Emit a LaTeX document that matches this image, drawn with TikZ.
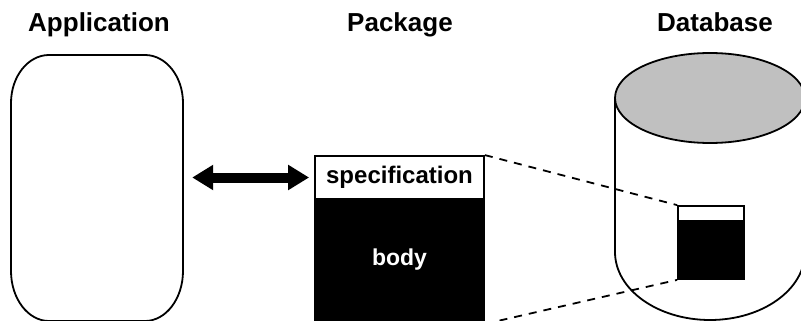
\documentclass[tikz,border=0pt]{standalone}
\usepackage{fontspec}
\setmainfont{Liberation Sans}
\usetikzlibrary{arrows.meta}
\definecolor{topgray}{RGB}{192,192,192}
\tikzset{
  outline/.style={line width=1.8pt, black},
  title/.style={font=\bfseries\fontsize{26}{30}\selectfont, anchor=base, inner sep=0pt},
  specbox/.style={draw, line width=1.8pt, fill=white, inner sep=0pt, font=\bfseries\fontsize{24}{28}\selectfont},
  bodybox/.style={draw, line width=1.8pt, fill=black, text=white, inner sep=0pt, font=\bfseries\fontsize{23}{27}\selectfont},
  dashline/.style={line width=1.8pt, dash pattern=on 8pt off 7pt},
  bigarrow/.style={line width=10pt, {Triangle[length=21pt,width=24pt]}-{Triangle[length=21pt,width=24pt]}}
}
\begin{document}
\begin{tikzpicture}[x=1pt, y=-1pt]
\useasboundingbox (0,0) rectangle (801,321);
\clip (0,0) rectangle (801,321);
% titles
\node[title] (tapp) at (99,32) {Application};
\node[title] (tpkg) at (400,32) {Package};
\node[title] (tdb) at (715,32) {Database};
% application shape
\draw[outline] (49,55) -- (145,55)
  arc[start angle=90, end angle=0, x radius=38pt, y radius=48pt]
  -- (183,271)
  arc[start angle=0, end angle=-90, x radius=38pt, y radius=50pt]
  -- (49,321)
  arc[start angle=270, end angle=180, x radius=38pt, y radius=50pt]
  -- (11,103)
  arc[start angle=180, end angle=90, x radius=38pt, y radius=48pt] -- cycle;
\node[minimum width=172pt, minimum height=266pt, inner sep=0pt] (app) at (97,188) {};
% package
\node[specbox, minimum width=169pt, minimum height=43pt] (spec) at (399.5,177.5) {specification};
\node[bodybox, minimum width=169pt, minimum height=122pt] (body) at (399.5,260) {body};
% arrow
\draw[bigarrow] ([xshift=9pt]app.east |- spec.west) -- ([xshift=-5pt]spec.west);
% database cylinder
\draw[outline] (615,98) -- (615,252)
  arc[start angle=180, end angle=360, x radius=95pt, y radius=68pt]
  -- (805,98);
\draw[outline, fill=topgray] (710,98) ellipse[x radius=95pt, y radius=45pt];
% small package in database
\node[draw, line width=1.8pt, fill=white, inner sep=0pt, minimum width=66pt, minimum height=15pt] (sspec) at (711,213.5) {};
\node[draw, line width=1.8pt, fill=black, inner sep=0pt, minimum width=66pt, minimum height=58pt] (sbody) at (711,250) {};
% dashed connectors
\draw[dashline] (spec.north east) -- (sspec.north west);
\draw[dashline] ([yshift=-2pt]body.south east) -- (sbody.south west);
\end{tikzpicture}
\end{document}
